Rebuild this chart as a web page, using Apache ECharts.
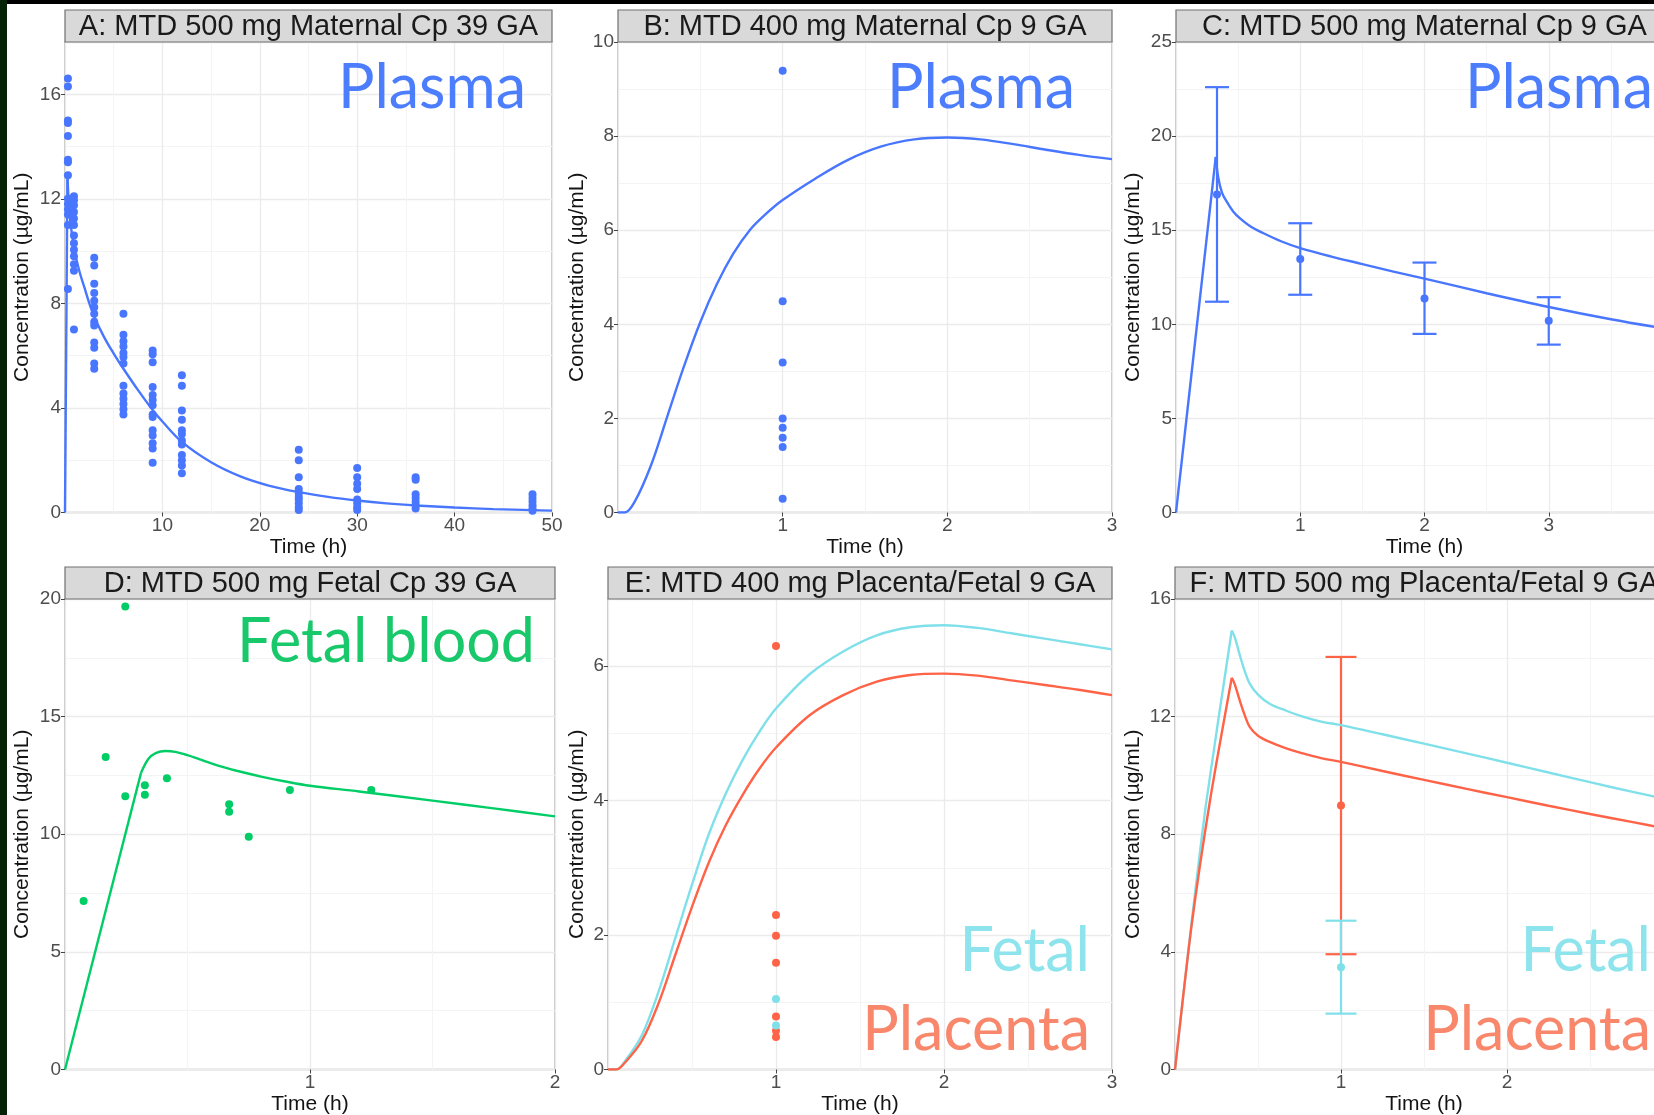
<!DOCTYPE html>
<html>
<head>
<meta charset="utf-8">
<script src="https://cdn.jsdelivr.net/npm/echarts@6/dist/echarts.min.js"></script>
<style>
  html, body { margin: 0; padding: 0; background: #fff; }
  #chart { width: 1654px; height: 1115px; }
</style>
</head>
<body>
<div id="chart"></div>
<script>
// ---- values ----
const panelTitles = [
  'A: MTD 500 mg Maternal Cp 39 GA',
  'B: MTD 400 mg Maternal Cp 9 GA',
  'C: MTD 500 mg Maternal Cp 9 GA',
  'D: MTD 500 mg Fetal Cp 39 GA',
  'E: MTD 400 mg Placenta/Fetal 9 GA',
  'F: MTD 500 mg Placenta/Fetal 9 GA'
]

// A: maternal plasma, 39 GA
const aSampleTimes = [0.3, 0.92, 3, 6, 9, 12, 24, 30, 36, 48]
const aSampleConc = [
  [16.6, 16.3, 15.0, 14.9, 14.4, 13.5, 13.4, 12.9, 12.0, 11.8, 11.6, 11.4, 11.0, 8.55],
  [12.1, 11.95, 11.75, 11.5, 11.25, 11.0, 10.6, 10.3, 10.05, 9.8, 9.5, 9.25, 7.0],
  [9.75, 9.45, 8.75, 8.4, 8.1, 7.85, 7.6, 7.3, 7.15, 6.5, 6.3, 5.7, 5.5],
  [7.6, 6.8, 6.55, 6.35, 6.1, 5.95, 5.7, 4.85, 4.55, 4.35, 4.15, 3.95, 3.75],
  [6.2, 6.05, 5.75, 4.8, 4.5, 4.3, 4.1, 3.75, 3.65, 3.15, 2.95, 2.65, 2.45, 1.9],
  [5.25, 4.85, 3.9, 3.55, 3.15, 3.0, 2.75, 2.6, 2.2, 2.0, 1.8, 1.5],
  [2.4, 2.0, 1.35, 0.9, 0.75, 0.6, 0.5, 0.35, 0.2, 0.1],
  [1.7, 1.35, 1.1, 0.9, 0.5, 0.35, 0.2, 0.1],
  [1.35, 1.25, 0.7, 0.55, 0.4, 0.28, 0.15],
  [0.7, 0.55, 0.42, 0.28, 0.15, 0.07]
]
const aModelRise = [[0, 0], [0.25, 12.9]]
const aModelDecay = [
  [0.25, 12.9], [0.5, 11.3], [1, 10.0], [1.5, 9.2], [2, 8.6], [2.5, 8.0], [3, 7.5], [4, 6.72],
  [5, 6.08], [6, 5.5], [7.5, 4.68], [9, 3.92], [10, 3.48], [12, 2.7], [15, 1.92], [18, 1.38],
  [21, 1.02], [24, 0.78], [27, 0.6], [30, 0.46], [33, 0.35], [36, 0.27], [40, 0.19],
  [44, 0.13], [48, 0.09], [50, 0.07]
]

// B: maternal plasma, 400 mg 9 GA
const bSampleTimes = [1, 1, 1, 1, 1, 1, 1, 1]
const bSampleConc = [9.39, 4.49, 3.19, 2.0, 1.8, 1.59, 1.39, 0.29]
const bModel = [
  [0, 0], [0.04, 0], [0.1, 0.22], [0.2, 1.0], [0.3, 2.05], [0.4, 3.1], [0.5, 4.05],
  [0.6, 4.85], [0.7, 5.5], [0.8, 6.0], [0.9, 6.35], [1.0, 6.64], [1.2, 7.1], [1.4, 7.5],
  [1.6, 7.78], [1.8, 7.93], [2.0, 7.97], [2.2, 7.93], [2.4, 7.83], [2.6, 7.71], [2.8, 7.6], [3.0, 7.51]
]

// C: maternal plasma, 500 mg 9 GA (mean with error bars)
const cTimes = [0.33, 1, 2, 3]
const cMean = [16.9, 13.47, 11.37, 10.19]
const cLow = [11.2, 11.57, 9.49, 8.92]
const cHigh = [22.6, 15.37, 13.28, 11.44]
const cModelRise = [[0, 0], [0.32, 18.9]]
const cModelDecay = [
  [0.32, 18.9], [0.34, 17.8], [0.37, 17.0], [0.41, 16.5],
  [0.46, 16.0], [0.52, 15.6], [0.6, 15.2], [0.7, 14.85], [0.85, 14.4], [1, 14.05],
  [1.25, 13.6], [1.5, 13.2], [1.75, 12.8], [2, 12.43], [2.5, 11.65], [3, 10.92], [3.5, 10.27], [4, 9.7]
]

// D: fetal blood, 39 GA
const dSampleTimes = [0.076, 0.166, 0.246, 0.246, 0.326, 0.326, 0.416, 0.67, 0.67, 0.75, 0.918, 1.25]
const dSampleConc = [7.16, 13.28, 19.68, 11.61, 12.08, 11.68, 12.38, 11.27, 10.96, 9.89, 11.88, 11.88]
const dModelRise = [[0, 0], [0.31, 12.6]]
const dModelTop = [
  [0.31, 12.6], [0.34, 13.2], [0.37, 13.45], [0.41, 13.54], [0.45, 13.5],
  [0.5, 13.36], [0.55, 13.18], [0.6, 13.0], [0.65, 12.84], [0.7, 12.7], [0.8, 12.45],
  [0.9, 12.24], [1, 12.06], [1.2, 11.82], [1.5, 11.43], [1.75, 11.1], [2, 10.76]
]

// E: placenta / fetal, 400 mg 9 GA
const ePlacentaTimes = [1, 1, 1, 1, 1, 1, 1]
const ePlacentaConc = [6.3, 2.3, 1.99, 1.59, 0.79, 0.575, 0.485]
const eFetalTimes = [1, 1]
const eFetalConc = [1.05, 0.655]
const eFetalModel = [
  [0, 0], [0.05, 0], [0.1, 0.12], [0.2, 0.5], [0.3, 1.15], [0.4, 1.95], [0.5, 2.75],
  [0.6, 3.5], [0.7, 4.1], [0.8, 4.6], [0.9, 5.02], [1.0, 5.37], [1.2, 5.88], [1.4, 6.22],
  [1.6, 6.46], [1.8, 6.58], [2.0, 6.61], [2.2, 6.57], [2.4, 6.49], [2.6, 6.41], [2.8, 6.33], [3.0, 6.25]
]
const ePlacentaModel = [
  [0, 0], [0.05, 0], [0.1, 0.1], [0.2, 0.42], [0.3, 0.98], [0.4, 1.7], [0.5, 2.42],
  [0.6, 3.08], [0.7, 3.63], [0.8, 4.08], [0.9, 4.47], [1.0, 4.79], [1.2, 5.27], [1.4, 5.57],
  [1.6, 5.77], [1.8, 5.87], [2.0, 5.89], [2.2, 5.86], [2.4, 5.79], [2.6, 5.72], [2.8, 5.65], [3.0, 5.57]
]

// F: placenta / fetal, 500 mg 9 GA (mean with error bars)
const fTimes = [1]
const fPlacentaMean = [8.98]
const fPlacentaLow = [3.92]
const fPlacentaHigh = [14.03]
const fFetalMean = [3.48]
const fFetalLow = [1.9]
const fFetalHigh = [5.06]
const fFetalRise = [[0, 0], [0.1, 5.0], [0.19, 9.15], [0.342, 14.93]]
const fFetalDecay = [
  [0.342, 14.93], [0.36, 14.7], [0.39, 14.1], [0.42, 13.55],
  [0.45, 13.12], [0.5, 12.75], [0.57, 12.44], [0.67, 12.2], [0.77, 12.0], [0.88, 11.83],
  [1, 11.71], [1.25, 11.4], [1.5, 11.08], [1.75, 10.76], [2, 10.43], [2.25, 10.1],
  [2.5, 9.77], [2.75, 9.45], [3, 9.15]
]
const fPlacentaRise = [[0, 0], [0.1, 4.9], [0.211, 9.15], [0.342, 13.32]]
const fPlacentaDecay = [
  [0.342, 13.32], [0.36, 13.1], [0.39, 12.55], [0.42, 12.05],
  [0.45, 11.65], [0.5, 11.35], [0.57, 11.14], [0.67, 10.92], [0.77, 10.75], [0.88, 10.59],
  [1, 10.46], [1.25, 10.15], [1.5, 9.85], [1.75, 9.55], [2, 9.26], [2.25, 8.97],
  [2.5, 8.69], [2.75, 8.42], [3, 8.15]
]

// axis ranges per panel
const xMax = [50, 3, 4, 2, 3, 3]
const xStep = [10, 1, 1, 1, 1, 1]
const yMax = [18, 10, 25, 20, 7, 16]
const yStep = [4, 2, 5, 5, 2, 4]

// ---- layout & style ----
const FONT = '"Liberation Sans", Arial, sans-serif'
const ANNO_FONT = 'Lato'
const BLUE = '#4876FF'
const GREEN = '#00CD66'
const CYAN = '#80E0EA'
const RED = '#FF6347'
const TITLE_SIZE = 21
const TICK_SIZE = 19

const gridBoxes = [
  { left: 65, top: 42, width: 487, height: 470.5 },
  { left: 618, top: 42, width: 494, height: 470.5 },
  { left: 1176, top: 42, width: 497, height: 470.5 },
  { left: 65, top: 599, width: 490, height: 470.5 },
  { left: 608, top: 599, width: 504, height: 470.5 },
  { left: 1175, top: 599, width: 498, height: 470.5 }
]
// distance from the panel edge to the centre of the y title
const yTitleDist = [43, 41, 43, 43, 31, 42]
const STRIP_H = 32

const zip = (xs, ys) => xs.map((x, i) => [x, ys[i]])

const grids = gridBoxes.map((b) => ({
  ...b,
  containLabel: false,
  outerBoundsMode: 'none',
  show: true,
  backgroundColor: '#fff',
  borderColor: '#b8b8b8',
  borderWidth: 1.5
}))

const xAxes = gridBoxes.map((b, i) => ({
  type: 'value',
  gridIndex: i,
  min: 0,
  max: xMax[i],
  interval: xStep[i],
  name: 'Time (h)',
  nameLocation: 'middle',
  nameGap: 21,
  nameTextStyle: { color: '#141414', fontSize: TITLE_SIZE, fontFamily: FONT },
  axisLine: { show: false },
  axisTick: { show: true, length: 4, lineStyle: { color: '#444' } },
  axisLabel: { color: '#4d4d4d', fontSize: TICK_SIZE, fontFamily: FONT, margin: 4, showMinLabel: false },
  splitLine: { show: true, lineStyle: { color: '#ebebeb', width: 1.3 } },
  minorTick: { show: false, splitNumber: 2 },
  minorSplitLine: { show: true, lineStyle: { color: '#f4f4f4', width: 1 } }
}))

const yAxes = gridBoxes.map((b, i) => ({
  type: 'value',
  gridIndex: i,
  min: 0,
  max: yMax[i],
  interval: yStep[i],
  name: 'Concentration (µg/mL)',
  nameLocation: 'middle',
  nameGap: yTitleDist[i] - TITLE_SIZE / 2,
  nameTextStyle: { color: '#141414', fontSize: TITLE_SIZE, fontFamily: FONT },
  axisLine: { show: false },
  axisTick: { show: true, length: 4, lineStyle: { color: '#444' } },
  axisLabel: {
    color: '#4d4d4d', fontSize: TICK_SIZE, fontFamily: FONT, margin: 4,
    showMaxLabel: yMax[i] % yStep[i] === 0
  },
  splitLine: { show: true, lineStyle: { color: '#ebebeb', width: 1.3 } },
  minorTick: { show: false, splitNumber: 2 },
  minorSplitLine: { show: true, lineStyle: { color: '#f4f4f4', width: 1 } }
}))

function lineSeries(i, data, color, smooth) {
  return {
    type: 'line', xAxisIndex: i, yAxisIndex: i, data,
    showSymbol: false, smooth: smooth || false, clip: true,
    lineStyle: { color, width: 2.4 }, itemStyle: { color }, z: 3
  }
}

function pointSeries(i, data, color) {
  return {
    type: 'scatter', xAxisIndex: i, yAxisIndex: i, data,
    symbolSize: 8, itemStyle: { color, opacity: 1 }, z: 4
  }
}

function errorBarSeries(i, times, low, high, color, capHalf) {
  return {
    type: 'custom', xAxisIndex: i, yAxisIndex: i,
    data: times.map((t, k) => [t, low[k], high[k]]),
    encode: { x: 0, y: [1, 2] },
    itemStyle: { color },
    z: 3,
    renderItem(params, api) {
      const t = api.value(0)
      const lo = api.coord([t, api.value(1)])
      const hi = api.coord([t, api.value(2)])
      const style = { stroke: color, lineWidth: 2.2 }
      return {
        type: 'group',
        children: [
          { type: 'line', shape: { x1: lo[0], y1: lo[1], x2: hi[0], y2: hi[1] }, style },
          { type: 'line', shape: { x1: lo[0] - capHalf, y1: lo[1], x2: lo[0] + capHalf, y2: lo[1] }, style },
          { type: 'line', shape: { x1: hi[0] - capHalf, y1: hi[1], x2: hi[0] + capHalf, y2: hi[1] }, style }
        ]
      }
    }
  }
}

const aSamples = aSampleTimes.flatMap((t, k) => aSampleConc[k].map((c) => [t, c]))

const series = [
  // A
  lineSeries(0, aModelRise, BLUE),
  lineSeries(0, aModelDecay, BLUE, 0.35),
  pointSeries(0, aSamples, BLUE),
  // B
  lineSeries(1, bModel, BLUE, 0.35),
  pointSeries(1, zip(bSampleTimes, bSampleConc), BLUE),
  // C
  lineSeries(2, cModelRise, BLUE),
  lineSeries(2, cModelDecay, BLUE, 0.35),
  errorBarSeries(2, cTimes, cLow, cHigh, BLUE, 12),
  pointSeries(2, zip(cTimes, cMean), BLUE),
  // D
  lineSeries(3, dModelRise, GREEN),
  lineSeries(3, dModelTop, GREEN, 0.35),
  pointSeries(3, zip(dSampleTimes, dSampleConc), GREEN),
  // E
  lineSeries(4, eFetalModel, CYAN, 0.35),
  lineSeries(4, ePlacentaModel, RED, 0.35),
  pointSeries(4, zip(ePlacentaTimes, ePlacentaConc), RED),
  pointSeries(4, zip(eFetalTimes, eFetalConc), CYAN),
  // F
  lineSeries(5, fFetalRise, CYAN, 0.25),
  lineSeries(5, fFetalDecay, CYAN, 0.35),
  lineSeries(5, fPlacentaRise, RED, 0.25),
  lineSeries(5, fPlacentaDecay, RED, 0.35),
  errorBarSeries(5, fTimes, fPlacentaLow, fPlacentaHigh, RED, 15.5),
  errorBarSeries(5, fTimes, fFetalLow, fFetalHigh, CYAN, 15.5),
  pointSeries(5, zip(fTimes, fPlacentaMean), RED),
  pointSeries(5, zip(fTimes, fFetalMean), CYAN)
]

// facet strips
const strips = gridBoxes.flatMap((b, i) => [
  {
    type: 'rect',
    shape: { x: b.left, y: b.top - STRIP_H, width: b.width, height: STRIP_H },
    style: { fill: '#d9d9d9', stroke: '#707070', lineWidth: 1.2 },
    z: 10
  },
  {
    type: 'text',
    x: b.left + b.width / 2,
    y: b.top - STRIP_H / 2 + 1,
    style: {
      text: panelTitles[i], fill: '#1a1a1a', font: '29px ' + FONT,
      align: 'center', verticalAlign: 'middle'
    },
    z: 11
  }
])

// big coloured labels
const annotations = [
  ['Plasma', 526, 88, '#4c7dfc'],
  ['Plasma', 1075, 88, '#4c7dfc'],
  ['Plasma', 1653, 88, '#4c7dfc'],
  ['Fetal blood', 535, 642, '#18c86a'],
  ['Fetal', 1090, 951, '#8ee4ec'],
  ['Placenta', 1090, 1030, '#f8876c'],
  ['Fetal', 1651, 951, '#8ee4ec'],
  ['Placenta', 1651, 1030, '#f8876c']
].map(([text, x, y, fill]) => ({
  type: 'text', x, y,
  style: { text, fill, font: '61px ' + ANNO_FONT, align: 'right', verticalAlign: 'middle' },
  z: 12
}))

const frame = [
  { type: 'rect', shape: { x: 0, y: 0, width: 1654, height: 4 }, style: { fill: '#000' }, z: 20 },
  { type: 'rect', shape: { x: 0, y: 0, width: 7, height: 1115 }, style: { fill: '#032304' }, z: 20 }
]

const chart = echarts.init(document.getElementById('chart'), null, { renderer: 'canvas' })
chart.setOption({
  animation: false,
  backgroundColor: '#fff',
  grid: grids,
  xAxis: xAxes,
  yAxis: yAxes,
  series,
  graphic: [...strips, ...annotations, ...frame]
})
</script>
</body>
</html>
